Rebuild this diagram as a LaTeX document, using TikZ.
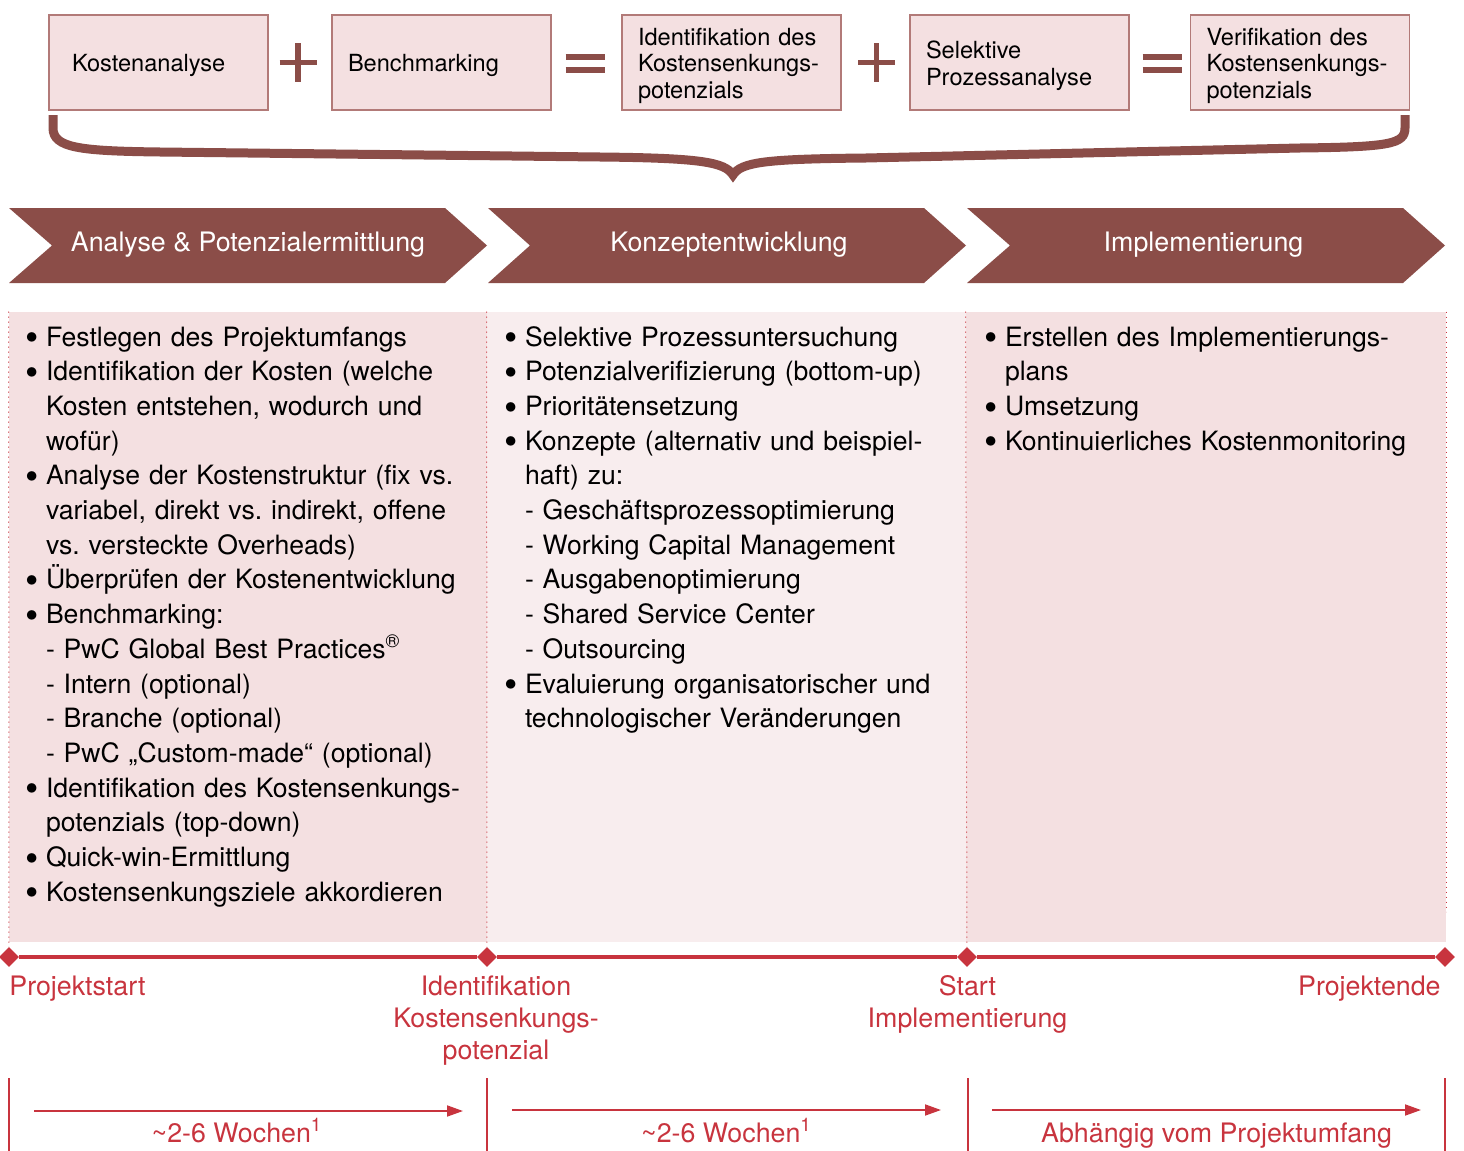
\documentclass[tikz,border=0pt]{standalone}
\usepackage{fontspec}
\setmainfont{TeX Gyre Heros}
\frenchspacing
\usetikzlibrary{shapes.geometric,arrows.meta,positioning,calc}
\definecolor{pwcbrown}{RGB}{139,77,72}
\definecolor{boxpink}{RGB}{244,224,225}
\definecolor{boxline}{RGB}{178,122,120}
\definecolor{colpale}{RGB}{248,237,238}
\definecolor{msred}{RGB}{200,52,62}
\tikzstyle{topbox} = [rectangle, draw=boxline, line width=0.7pt, fill=boxpink, minimum width=109.5pt, minimum height=47.5pt, text width=93.5pt, text height=11.8pt, inner xsep=8pt, align=left, font=\fontsize{11.8}{13.3}\selectfont]
\tikzstyle{opsign} = [draw=pwcbrown, line width=2.8pt]
\tikzstyle{phase} = [fill=pwcbrown]
\tikzstyle{phasetext} = [text=white, inner sep=0pt, anchor=base, font=\fontsize{13.4}{15}\selectfont]
\tikzstyle{phasecol} = [rectangle, minimum height=315pt, inner sep=0pt]
\tikzstyle{coltext} = [anchor=base west, inner sep=0pt, text width=240pt, align=left, font=\fontsize{13.3}{17.35}\selectfont]
\tikzstyle{milestone} = [diamond, fill=msred, inner sep=0pt, minimum width=10pt, minimum height=10pt]
\tikzstyle{mslabel} = [text=msred, inner sep=0pt, anchor=base, font=\fontsize{13.4}{16}\selectfont]
\tikzstyle{tickline} = [draw=msred, line width=0.6pt]
\tikzstyle{duration} = [draw=msred, line width=0.9pt, -{Triangle[length=8pt,width=5.5pt]}]
\newcommand{\bl}{\makebox[10.3pt][l]{\raisebox{-2.4pt}{\fontsize{19}{19}\selectfont\textbullet}}}
\newcommand{\ind}{\hspace*{10.3pt}}

\begin{document}
\begin{tikzpicture}[x=0.5pt, y=-0.5pt]
    \useasboundingbox (0,0) rectangle (1464,1151);

    % top row: analysis steps
    \node[topbox] (kosten) at (158.5,62.5) {\hspace*{3.5pt}Kostenanalyse};
    \node[topbox] (bench) at (441.5,62.5) {Benchmarking};
    \node[topbox] (ident) at (731.5,62.5) {Identifikation des\\Kostensenkungs-\\potenzials};
    \node[topbox] (selekt) at (1019.5,62.5) {Selektive\\Prozessanalyse};
    \node[topbox] (verif) at (1300,62.5) {Verifikation des\\Kostensenkungs-\\potenzials};

    \coordinate (plus1) at (298,62.5);
    \coordinate (eq1) at (585,63.5);
    \coordinate (plus2) at (876.5,62.5);
    \coordinate (eq2) at (1162,63.5);
    \draw[opsign] (plus1) +(-18.5,0) -- +(18.5,0) +(0,-19.5) -- +(0,19.5);
    \draw[opsign] (plus2) +(-18.5,0) -- +(18.5,0) +(0,-19.5) -- +(0,19.5);
    \draw[opsign, line width=3pt] (eq1) +(-19.5,-6.75) -- +(19.5,-6.75) +(-19.5,6.75) -- +(19.5,6.75);
    \draw[opsign, line width=3pt] (eq2) +(-19.5,-6.75) -- +(19.5,-6.75) +(-19.5,6.75) -- +(19.5,6.75);

    % brace
    \draw[pwcbrown, line width=4.5pt] (53,115) -- (53,128) .. controls (53,148) and (80,151) .. (160,152)
        -- (600,157) .. controls (700,158) and (725,162) .. (733,175)
        .. controls (741,162) and (766,159) .. (866,158) -- (1300,148)
        .. controls (1390,147) and (1405,144) .. (1405,128) -- (1405,115);

    % phases
    \fill[phase] (9,208) -- (445,208) -- (487,245.5) -- (445,283) -- (9,283) -- (52,245.5) -- cycle;
    \fill[phase] (488,208) -- (924,208) -- (966,245.5) -- (924,283) -- (488,283) -- (530,245.5) -- cycle;
    \fill[phase] (967,208) -- (1403,208) -- (1445,245.5) -- (1403,283) -- (967,283) -- (1010,245.5) -- cycle;
    \node[phasetext] (ph1) at (248,251) {Analyse \& Potenzialermittlung};
    \node[phasetext] (ph2) at (729,251) {Konzeptentwicklung};
    \node[phasetext] (ph3) at (1203.5,251) {Implementierung};

    % columns
    \node[phasecol, fill=boxpink, minimum width=239pt] (col1) at (248,627) {};
    \node[phasecol, fill=colpale, minimum width=239.5pt] (col2) at (726.5,627) {};
    \node[phasecol, fill=boxpink, minimum width=240pt] (col3) at (1206,627) {};

    \node[coltext] (txt1) at (25,346) {\bl Festlegen des Projektumfangs\\
        \bl Identifikation der Kosten (welche\\
        \ind Kosten entstehen, wodurch und\\
        \ind wofür)\\
        \bl Analyse der Kostenstruktur (fix vs.\\
        \ind variabel, direkt vs. indirekt, offene\\
        \ind vs. versteckte Overheads)\\
        \bl Überprüfen der Kostenentwicklung\\
        \bl Benchmarking:\\
        \ind - PwC Global Best Practices\textsuperscript{\textregistered}\\
        \ind - Intern (optional)\\
        \ind - Branche (optional)\\
        \ind - PwC „Custom-made“ (optional)\\
        \bl Identifikation des Kostensenkungs-\\
        \ind potenzials (top-down)\\
        \bl Quick-win-Ermittlung\\
        \bl Kostensenkungsziele akkordieren};
    \node[coltext] (txt2) at (504,346) {\bl Selektive Prozessuntersuchung\\
        \bl Potenzialverifizierung (bottom-up)\\
        \bl Prioritätensetzung\\
        \bl Konzepte (alternativ und beispiel-\\
        \ind haft) zu:\\
        \ind - Geschäftsprozessoptimierung\\
        \ind - Working Capital Management\\
        \ind - Ausgabenoptimierung\\
        \ind - Shared Service Center\\
        \ind - Outsourcing\\
        \bl Evaluierung organisatorischer und\\
        \ind technologischer Veränderungen};
    \node[coltext] (txt3) at (984,346) {\bl Erstellen des Implementierungs-\\
        \ind plans\\
        \bl Umsetzung\\
        \bl Kontinuierliches Kostenmonitoring};

    % milestones
    \node[milestone] (m1) at (9,957) {};
    \node[milestone] (m2) at (487,957) {};
    \node[milestone] (m3) at (967,957) {};
    \node[milestone] (m4) at (1445,957) {};
    \draw[msred, line width=1.6pt] (m1) -- (m2) -- (m3) -- (m4);
    \draw[msred, dotted, line width=0.5pt] (col1.north west) -- (m1);
    \draw[msred, dotted, line width=0.5pt] (col2.north west) -- (m2);
    \draw[msred, dotted, line width=0.5pt] (col3.north west) -- (m3);
    \draw[msred, dotted, line width=0.5pt] (col3.north east) -- ++(0,600);

    \node[mslabel, anchor=base west] (ms1) at (9,995) {Projektstart};
    \node[mslabel, text width=120pt, align=center] (ms2) at (496,995) {Identifikation\\Kostensenkungs-\\potenzial};
    \node[mslabel, text width=120pt, align=center] (ms3) at (967.5,995) {Start\\Implementierung};
    \node[mslabel, anchor=base east] (ms4) at (1441,995) {Projektende};

    % durations
    \coordinate (t1) at (9,1078);
    \coordinate (t2) at (487,1078);
    \coordinate (t3) at (968,1078);
    \coordinate (t4) at (1445,1078);
    \draw[tickline] (t1) -- ++(0,80);
    \draw[tickline] (t2) -- ++(0,80);
    \draw[tickline] (t3) -- ++(0,80);
    \draw[tickline] (t4) -- ++(0,80);

    \coordinate (d1s) at (34,1111);
    \coordinate (d1e) at (463,1111);
    \coordinate (d2s) at (512,1110);
    \coordinate (d2e) at (941,1110);
    \coordinate (d3s) at (992,1110);
    \coordinate (d3e) at (1421,1110);
    \draw[duration] (d1s) -- (d1e);
    \draw[duration] (d2s) -- (d2e);
    \draw[duration] (d3s) -- (d3e);
    \node[mslabel] (w1) at (237,1142) {\textasciitilde2-6 Wochen\textsuperscript{1}};
    \node[mslabel] (w2) at (726.5,1142) {\textasciitilde2-6 Wochen\textsuperscript{1}};
    \node[mslabel] (w3) at (1216.5,1142) {Abhängig vom Projektumfang};
\end{tikzpicture}
\end{document}
